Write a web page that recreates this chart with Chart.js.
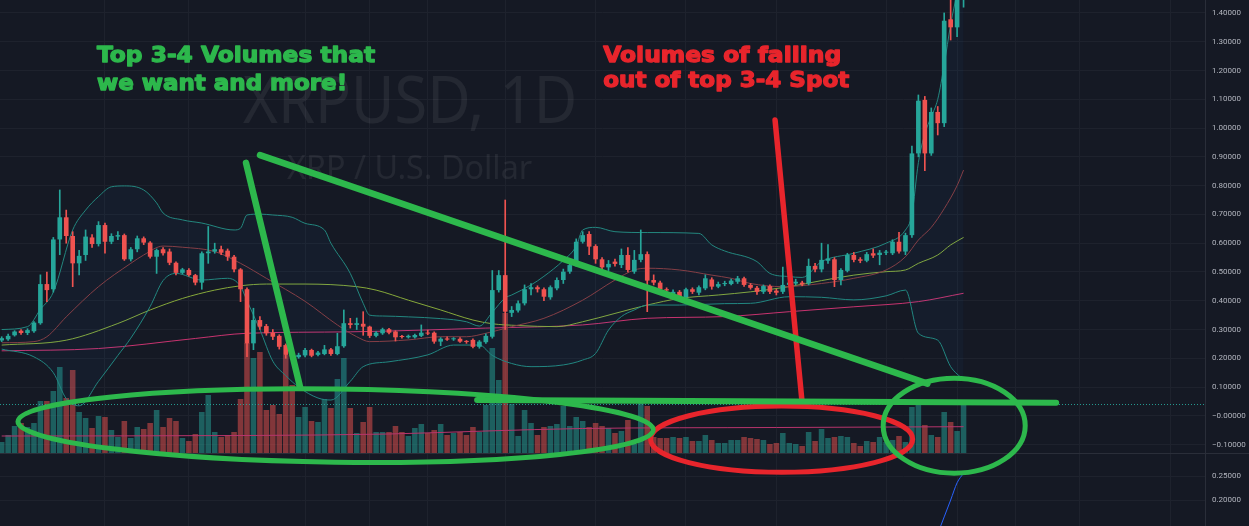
<!DOCTYPE html>
<html>
<head>
<meta charset="utf-8">
<title>XRPUSD, 1D</title>
<script src="https://cdn.jsdelivr.net/npm/chart.js@4.4.1/dist/chart.umd.min.js"></script>
<style>
  html, body { margin: 0; padding: 0; background: #151924; overflow: hidden; }
  #chart { display: block; }
</style>
</head>
<body>
<canvas id="chart" width="1249" height="526"></canvas>
<script>
// daily candles, day 0 = 2020-11-15
const opens = [
  0.262, 0.266, 0.280, 0.296, 0.288, 0.294, 0.322, 0.458, 0.440, 0.613,
  0.690, 0.625, 0.530, 0.559, 0.620, 0.597, 0.663, 0.605, 0.623, 0.628,
  0.544, 0.579, 0.617, 0.602, 0.553, 0.579, 0.571, 0.532, 0.497, 0.507,
  0.489, 0.463, 0.565, 0.571, 0.579, 0.574, 0.553, 0.509, 0.440, 0.252,
  0.333, 0.312, 0.289, 0.278, 0.246, 0.218, 0.204, 0.210, 0.229, 0.212,
  0.215, 0.231, 0.215, 0.242, 0.322, 0.316, 0.320, 0.310, 0.278, 0.287,
  0.301, 0.293, 0.276, 0.273, 0.273, 0.278, 0.289, 0.289, 0.258, 0.269,
  0.266, 0.268, 0.259, 0.264, 0.240, 0.256, 0.275, 0.437, 0.489, 0.358,
  0.366, 0.391, 0.440, 0.447, 0.440, 0.412, 0.443, 0.472, 0.501, 0.524,
  0.605, 0.632, 0.590, 0.544, 0.516, 0.536, 0.524, 0.559, 0.501, 0.542,
  0.562, 0.472, 0.463, 0.440, 0.416, 0.431, 0.412, 0.440, 0.428, 0.443,
  0.474, 0.449, 0.458, 0.458, 0.466, 0.478, 0.455, 0.445, 0.431, 0.451,
  0.435, 0.431, 0.455, 0.460, 0.463, 0.460, 0.521, 0.509, 0.539, 0.544,
  0.472, 0.504, 0.559, 0.544, 0.539, 0.565, 0.559, 0.567, 0.565, 0.605,
  0.571, 0.628, 0.912, 1.098, 0.912, 1.056, 1.017, 1.378, 1.350, 1.460
];
const highs = [
  0.275, 0.284, 0.296, 0.300, 0.303, 0.328, 0.490, 0.500, 0.620, 0.785,
  0.715, 0.640, 0.575, 0.646, 0.630, 0.675, 0.670, 0.633, 0.640, 0.632,
  0.585, 0.625, 0.622, 0.606, 0.580, 0.585, 0.580, 0.535, 0.513, 0.512,
  0.492, 0.570, 0.658, 0.600, 0.590, 0.580, 0.558, 0.512, 0.445, 0.374,
  0.345, 0.318, 0.300, 0.282, 0.250, 0.222, 0.218, 0.235, 0.232, 0.224,
  0.245, 0.235, 0.287, 0.368, 0.339, 0.340, 0.362, 0.312, 0.293, 0.305,
  0.304, 0.296, 0.280, 0.281, 0.284, 0.316, 0.298, 0.292, 0.272, 0.275,
  0.272, 0.272, 0.262, 0.268, 0.262, 0.285, 0.505, 0.505, 0.750, 0.380,
  0.400, 0.455, 0.460, 0.452, 0.445, 0.452, 0.480, 0.510, 0.530, 0.615,
  0.640, 0.640, 0.595, 0.550, 0.540, 0.545, 0.580, 0.585, 0.575, 0.646,
  0.570, 0.490, 0.468, 0.445, 0.438, 0.436, 0.444, 0.445, 0.452, 0.490,
  0.480, 0.465, 0.468, 0.475, 0.485, 0.482, 0.460, 0.450, 0.455, 0.455,
  0.440, 0.517, 0.470, 0.475, 0.468, 0.545, 0.530, 0.600, 0.595, 0.550,
  0.512, 0.565, 0.568, 0.550, 0.568, 0.580, 0.575, 0.575, 0.612, 0.638,
  0.635, 0.937, 1.115, 1.110, 1.070, 1.075, 1.400, 1.480, 1.500, 1.650
];
const lows = [
  0.258, 0.262, 0.277, 0.283, 0.282, 0.290, 0.318, 0.397, 0.430, 0.560,
  0.600, 0.449, 0.490, 0.540, 0.585, 0.590, 0.565, 0.598, 0.612, 0.540,
  0.538, 0.570, 0.595, 0.548, 0.495, 0.558, 0.525, 0.490, 0.493, 0.485,
  0.455, 0.440, 0.530, 0.565, 0.560, 0.540, 0.500, 0.397, 0.206, 0.230,
  0.300, 0.280, 0.265, 0.232, 0.200, 0.190, 0.200, 0.205, 0.205, 0.208,
  0.212, 0.210, 0.212, 0.238, 0.305, 0.300, 0.280, 0.272, 0.274, 0.283,
  0.285, 0.260, 0.270, 0.270, 0.270, 0.275, 0.282, 0.252, 0.244, 0.262,
  0.262, 0.255, 0.252, 0.236, 0.235, 0.252, 0.270, 0.430, 0.300, 0.345,
  0.360, 0.385, 0.420, 0.430, 0.400, 0.405, 0.438, 0.460, 0.495, 0.520,
  0.600, 0.560, 0.530, 0.495, 0.505, 0.520, 0.515, 0.500, 0.495, 0.535,
  0.362, 0.455, 0.432, 0.425, 0.410, 0.405, 0.405, 0.425, 0.420, 0.438,
  0.440, 0.445, 0.452, 0.455, 0.460, 0.450, 0.440, 0.422, 0.425, 0.425,
  0.420, 0.425, 0.448, 0.455, 0.452, 0.455, 0.500, 0.500, 0.530, 0.449,
  0.455, 0.500, 0.535, 0.532, 0.535, 0.550, 0.525, 0.560, 0.560, 0.565,
  0.560, 0.620, 0.900, 0.852, 0.905, 0.976, 1.005, 1.306, 1.318, 1.420
];
const closes = [
  0.270, 0.278, 0.293, 0.288, 0.298, 0.324, 0.458, 0.437, 0.613, 0.690,
  0.625, 0.530, 0.556, 0.623, 0.597, 0.663, 0.605, 0.625, 0.628, 0.544,
  0.579, 0.617, 0.602, 0.553, 0.576, 0.565, 0.532, 0.497, 0.509, 0.489,
  0.463, 0.565, 0.571, 0.579, 0.567, 0.553, 0.509, 0.440, 0.252, 0.333,
  0.310, 0.287, 0.275, 0.240, 0.212, 0.206, 0.212, 0.229, 0.209, 0.220,
  0.231, 0.215, 0.242, 0.322, 0.316, 0.322, 0.310, 0.278, 0.289, 0.301,
  0.289, 0.273, 0.274, 0.278, 0.281, 0.289, 0.286, 0.258, 0.268, 0.265,
  0.268, 0.258, 0.257, 0.240, 0.258, 0.278, 0.437, 0.489, 0.362, 0.368,
  0.391, 0.440, 0.447, 0.440, 0.414, 0.447, 0.472, 0.501, 0.524, 0.605,
  0.628, 0.588, 0.544, 0.516, 0.528, 0.528, 0.559, 0.507, 0.542, 0.562,
  0.470, 0.463, 0.440, 0.436, 0.431, 0.414, 0.440, 0.431, 0.447, 0.478,
  0.449, 0.458, 0.460, 0.470, 0.478, 0.455, 0.445, 0.431, 0.451, 0.431,
  0.428, 0.455, 0.463, 0.466, 0.457, 0.521, 0.509, 0.542, 0.547, 0.472,
  0.507, 0.559, 0.542, 0.539, 0.562, 0.557, 0.567, 0.569, 0.605, 0.571,
  0.628, 0.912, 1.095, 0.912, 1.056, 1.017, 1.373, 1.350, 1.470, 1.600
];
// volume, relative units
const volumes = [
  11, 18, 27, 30, 26, 30, 52, 52, 62, 86,
  55, 83, 41, 35, 25, 37, 36, 23, 16, 32,
  15, 26, 24, 30, 43, 26, 35, 32, 15, 12,
  19, 41, 58, 21, 16, 18, 21, 54, 110, 95,
  101, 43, 48, 39, 98, 68, 36, 46, 32, 31,
  54, 45, 74, 95, 45, 20, 31, 46, 21, 21,
  21, 27, 21, 17, 25, 29, 20, 23, 29, 18,
  20, 21, 18, 26, 21, 48, 105, 73, 140, 49,
  17, 43, 30, 18, 26, 27, 29, 47, 27, 36,
  32, 26, 30, 27, 25, 20, 22, 33, 9, 50,
  47, 16, 15, 15, 16, 15, 16, 12, 12, 18,
  13, 10, 10, 13, 13, 16, 15, 14, 13, 9,
  10, 20, 10, 9, 7, 21, 12, 24, 15, 16,
  17, 16, 10, 7, 12, 11, 16, 11, 13, 17,
  11, 46, 48, 28, 18, 16, 41, 31, 22, 49
];

// indicator lines as [day, value]
const bbUpper = [
  [0, 0.300], [4, 0.310], [6, 0.370], [8, 0.430], [11, 0.646], [13, 0.715], [15, 0.762],
  [17, 0.796], [19, 0.799], [22, 0.785], [24, 0.740], [25, 0.705], [28, 0.681], [31, 0.670],
  [36, 0.646], [37, 0.652], [38, 0.698], [40, 0.701], [42, 0.698], [45, 0.690], [47, 0.669],
  [50, 0.646], [51, 0.600], [54, 0.495], [56, 0.391], [57, 0.350], [59, 0.347], [63, 0.344],
  [68, 0.338], [72, 0.327], [74, 0.312], [76, 0.360], [78, 0.410], [79, 0.420], [82, 0.455],
  [84, 0.485], [87, 0.540], [89, 0.590], [90, 0.646], [92, 0.655], [95, 0.640], [100, 0.637],
  [108, 0.634], [110, 0.594], [112, 0.573], [117, 0.536], [119, 0.495], [122, 0.484],
  [124, 0.481], [127, 0.536], [132, 0.565], [137, 0.600], [140, 0.646], [141, 0.700],
  [142, 0.880], [143, 0.980], [144, 1.040], [145, 1.100], [146, 1.220], [147, 1.360],
  [148, 1.470], [149, 1.580]
];
const bbLower = [
  [0, 0.232], [5, 0.205], [8, 0.150], [10, 0.060], [12, 0.035], [15, 0.120], [18, 0.210],
  [20, 0.270], [23, 0.380], [25, 0.470], [27, 0.495], [31, 0.472], [35, 0.478], [37, 0.450],
  [38, 0.400], [40, 0.300], [42, 0.190], [44, 0.140], [46, 0.100], [49, 0.062], [51, 0.055],
  [54, 0.120], [56, 0.171], [60, 0.188], [66, 0.212], [70, 0.246], [74, 0.246], [76, 0.210],
  [79, 0.182], [82, 0.171], [87, 0.177], [90, 0.194], [92, 0.217], [94, 0.298], [96, 0.345],
  [98, 0.368], [100, 0.385], [105, 0.385], [112, 0.390], [116, 0.391], [122, 0.414],
  [127, 0.412], [132, 0.403], [137, 0.417], [140, 0.437], [142, 0.287], [145, 0.263],
  [147, 0.171], [149, 0.125]
];
const bbBasis = [
  [0, 0.254], [5, 0.258], [7, 0.275], [10, 0.344], [15, 0.449], [20, 0.530], [22, 0.559],
  [25, 0.590], [28, 0.586], [33, 0.571], [37, 0.530], [41, 0.478], [47, 0.398], [52, 0.316],
  [55, 0.275], [57, 0.258], [63, 0.264], [68, 0.275], [72, 0.275], [75, 0.287], [79, 0.310],
  [84, 0.339], [90, 0.402], [95, 0.472], [98, 0.507], [100, 0.513], [105, 0.507], [110, 0.489],
  [113, 0.478], [116, 0.460], [121, 0.449], [127, 0.460], [132, 0.478], [137, 0.507],
  [140, 0.553], [142, 0.611], [144, 0.655], [146, 0.720], [148, 0.800], [149, 0.854]
];
const sma50 = [
  [0, 0.246], [10, 0.263], [18, 0.321], [23, 0.368], [28, 0.408], [33, 0.437], [37, 0.452],
  [41, 0.458], [47, 0.458], [55, 0.449], [58, 0.437], [63, 0.402], [68, 0.368], [73, 0.333],
  [76, 0.320], [80, 0.314], [86, 0.310], [90, 0.327], [95, 0.356], [100, 0.385], [105, 0.408],
  [111, 0.420], [116, 0.431], [122, 0.449], [127, 0.470], [132, 0.489], [137, 0.501],
  [140, 0.507], [142, 0.530], [145, 0.559], [147, 0.594], [149, 0.620]
];
const sma200 = [
  [0, 0.226], [15, 0.234], [30, 0.269], [38, 0.287], [54, 0.292], [75, 0.305], [90, 0.316],
  [100, 0.339], [112, 0.345], [122, 0.362], [132, 0.379], [142, 0.397], [149, 0.426]
];
const volumeMa = [[0, 17], [38, 17.5], [60, 19], [75, 22], [90, 24.5], [120, 25.5], [149, 26.3]];
const paneLine = [[145, 0.130], [146, 0.165], [147, 0.200], [148, 0.236], [149, 0.256]];

const priceTicks = [-0.1, 0, 0.1, 0.2, 0.3, 0.4, 0.5, 0.6, 0.7, 0.8, 0.9, 1.0, 1.1, 1.2, 1.3, 1.4];
const paneTicks = [0.2, 0.25];
const gridDays = [16, 29, 47, 57, 66, 78, 92, 106, 120, 137, 148, 157, 167, 181];

const BG = "#151924";
const GRID = "#1e222d";
const AXIS = "#2a2e39";
const TEXT = "#b2b5be";
const UP = "#26a69a";
const DOWN = "#ef5350";
const GREEN = "#2db84c";
const RED = "#e8252c";

// hand-drawn notes, placed in chart units (day, price)
const strokes = [
  { color: RED, width: 5.5, from: [119.8, 1.028], to: [124.0, 0.044] },
  { color: GREEN, width: 6.5, from: [37.85, 0.879], to: [46.22, 0.100] },
  { color: GREEN, width: 6.5, from: [40.02, 0.906], to: [143.4, 0.112] },
  { color: GREEN, width: 6, from: [73.65, 0.055], to: [163.35, 0.046] }
];
const rings = [
  { color: RED, width: 5, center: [120.82, -0.081], rx: 20.3, ry: 0.115, tilt: 0 },
  { color: GREEN, width: 5, center: [51.72, -0.034], rx: 49.2, ry: 0.127, tilt: 0.013 },
  { color: GREEN, width: 5, center: [147.55, -0.034], rx: 11.0, ry: 0.165, tilt: 0 }
];
const notes = [
  { text: "Top 3-4 Volumes that", color: GREEN, at: [14.77, 1.2308], span: 43.07 },
  { text: "we want and more!", color: GREEN, at: [14.77, 1.1324], span: 38.74 },
  { text: "Volumes of falling", color: RED, at: [93.17, 1.2308], span: 36.88 },
  { text: "out of top 3-4 Spot", color: RED, at: [93.17, 1.1418], span: 38.12 }
];
const watermark = [
  { text: "XRPUSD, 1D", font: "66px 'Noto Sans'", at: [37.39, 1.0177], span: 51.75 },
  { text: "XRP / U.S. Dollar", font: "33px 'Noto Sans'", at: [44.21, 0.823], span: 37.96 }
];

const days = opens.map((_, i) => i);
const candleColors = days.map((i) => (closes[i] >= opens[i] ? UP : DOWN));
const volumeColors = days.map((i) =>
  closes[i] >= opens[i] ? "rgba(38, 166, 154, 0.5)" : "rgba(239, 83, 80, 0.5)"
);
const points = (pairs) => pairs.map(([x, y]) => ({ x, y }));

function toPixel(chart, day, price) {
  return {
    x: chart.scales.x.getPixelForValue(day),
    y: chart.scales.yMain.getPixelForValue(price)
  };
}

function daysToPixels(chart, from, span) {
  return chart.scales.x.getPixelForValue(from + span) - chart.scales.x.getPixelForValue(from);
}

// squeeze or stretch a line of text to the width it has in the picture
function drawFitted(ctx, text, x, y, width, outline) {
  const natural = ctx.measureText(text).width;
  ctx.save();
  ctx.translate(x, y);
  ctx.scale(width / natural, 1);
  ctx.fillText(text, 0, 0);
  if (outline) {
    ctx.lineWidth = outline;
    ctx.lineJoin = "round";
    ctx.strokeText(text, 0, 0);
  }
  ctx.restore();
}

function formatPrice(value) {
  if (Math.abs(value) < 1e-9) return "\u22120.00000";
  if (value < 0) return "\u2212" + Math.abs(value).toFixed(5);
  return value.toFixed(5);
}

// keep the panes flush with the canvas edges
function noPadding(scale) {
  scale.paddingTop = 0;
  scale.paddingBottom = 0;
  scale.paddingLeft = 0;
  scale.paddingRight = 0;
}

const overlay = {
  id: "overlay",
  beforeDraw(chart) {
    const { ctx, width, height } = chart;
    ctx.save();
    ctx.fillStyle = BG;
    ctx.fillRect(0, 0, width, height);
    ctx.restore();
  },
  beforeDatasetsDraw(chart) {
    const ctx = chart.ctx;
    ctx.save();
    ctx.fillStyle = "rgba(255, 255, 255, 0.065)";
    ctx.textBaseline = "alphabetic";
    watermark.forEach((mark) => {
      const p = toPixel(chart, mark.at[0], mark.at[1]);
      ctx.font = mark.font;
      drawFitted(ctx, mark.text, p.x, p.y, daysToPixels(chart, mark.at[0], mark.span));
    });
    ctx.restore();
  },
  afterDatasetsDraw(chart) {
    const ctx = chart.ctx;
    const area = chart.chartArea;
    const low = chart.scales.yLow;

    ctx.save();
    // pane separator
    ctx.strokeStyle = AXIS;
    ctx.lineWidth = 1;
    ctx.beginPath();
    ctx.moveTo(0, Math.round(low.top) + 0.5);
    ctx.lineTo(chart.width, Math.round(low.top) + 0.5);
    ctx.stroke();

    // last volume level
    const lastVol = chart.scales.yVol.getPixelForValue(volumes[volumes.length - 1]);
    ctx.strokeStyle = "rgba(38, 166, 154, 0.9)";
    ctx.setLineDash([1, 2]);
    ctx.beginPath();
    ctx.moveTo(area.left, Math.round(lastVol) + 0.5);
    ctx.lineTo(area.right, Math.round(lastVol) + 0.5);
    ctx.stroke();
    ctx.setLineDash([]);

    ctx.lineCap = "round";
    rings.forEach((ring) => {
      const c = toPixel(chart, ring.center[0], ring.center[1]);
      const rx = daysToPixels(chart, ring.center[0], ring.rx);
      const ry = chart.scales.yMain.getPixelForValue(ring.center[1] - ring.ry) - c.y;
      ctx.strokeStyle = ring.color;
      ctx.lineWidth = ring.width;
      ctx.beginPath();
      ctx.ellipse(c.x, c.y, rx, ry, ring.tilt, 0, Math.PI * 2);
      ctx.stroke();
    });
    strokes.forEach((line) => {
      const a = toPixel(chart, line.from[0], line.from[1]);
      const b = toPixel(chart, line.to[0], line.to[1]);
      ctx.strokeStyle = line.color;
      ctx.lineWidth = line.width;
      ctx.beginPath();
      ctx.moveTo(a.x, a.y);
      ctx.lineTo(b.x, b.y);
      ctx.stroke();
    });

    ctx.font = "bold 22px 'DejaVu Sans'";
    ctx.textBaseline = "alphabetic";
    notes.forEach((note) => {
      const p = toPixel(chart, note.at[0], note.at[1]);
      ctx.fillStyle = note.color;
      ctx.strokeStyle = note.color;
      drawFitted(ctx, note.text, p.x, p.y, daysToPixels(chart, note.at[0], note.span), 1.3);
    });
    ctx.restore();
  }
};

const lineStyle = {
  type: "line",
  yAxisID: "yMain",
  borderWidth: 1,
  pointRadius: 0,
  cubicInterpolationMode: "monotone",
  fill: false,
  order: 5
};

const ctx = document.getElementById("chart").getContext("2d");
new Chart(ctx, {
  type: "bar",
  data: {
    datasets: [
      {
        label: "Volume",
        yAxisID: "yVol",
        data: days.map((i) => ({ x: i, y: volumes[i] })),
        backgroundColor: volumeColors,
        categoryPercentage: 1,
        barPercentage: 0.86,
        grouped: false,
        order: 10
      },
      {
        ...lineStyle,
        label: "BB upper",
        data: points(bbUpper),
        borderColor: "#23877f",
        backgroundColor: "rgba(33, 150, 243, 0.045)",
        fill: "+1"
      },
      { ...lineStyle, label: "BB lower", data: points(bbLower), borderColor: "#23877f" },
      { ...lineStyle, label: "BB basis", data: points(bbBasis), borderColor: "#8a3b3f" },
      { ...lineStyle, label: "SMA 50", data: points(sma50), borderColor: "#86a83a" },
      { ...lineStyle, label: "SMA 200", data: points(sma200), borderColor: "#c8336f" },
      {
        ...lineStyle,
        label: "Volume MA",
        yAxisID: "yVol",
        data: points(volumeMa),
        borderColor: "#b7346c"
      },
      {
        ...lineStyle,
        label: "Pane",
        yAxisID: "yLow",
        data: points(paneLine),
        borderColor: "#2962ff"
      },
      {
        label: "Wicks",
        yAxisID: "yMain",
        data: days.map((i) => ({ x: i, y: [lows[i], highs[i]] })),
        backgroundColor: candleColors,
        barThickness: 1,
        grouped: false,
        order: 2
      },
      {
        label: "Bodies",
        yAxisID: "yMain",
        data: days.map((i) => ({ x: i, y: [opens[i], closes[i]] })),
        backgroundColor: candleColors,
        categoryPercentage: 0.8,
        barPercentage: 0.9,
        minBarLength: 1,
        grouped: false,
        order: 1
      }
    ]
  },
  options: {
    responsive: false,
    animation: false,
    events: [],
    layout: { padding: 0 },
    plugins: {
      legend: { display: false },
      tooltip: { enabled: false }
    },
    scales: {
      x: {
        type: "linear",
        position: "bottom",
        min: -0.26,
        max: 186.4,
        offset: false,
        ticks: { display: false },
        grid: { color: GRID, drawTicks: false, offset: false },
        border: { display: false },
        afterBuildTicks: (scale) => {
          scale.ticks = gridDays.map((v) => ({ value: v }));
        },
        afterFit: (scale) => {
          scale.height = 0;
          noPadding(scale);
        }
      },
      yMain: {
        type: "linear",
        position: "right",
        stack: "price",
        stackWeight: 453,
        min: -0.129,
        max: 1.445,
        grid: { color: GRID, drawTicks: false },
        border: { color: AXIS },
        ticks: {
          color: TEXT,
          padding: 7,
          font: { family: "Roboto", size: 8 },
          callback: (v) => formatPrice(v)
        },
        afterBuildTicks: (scale) => {
          scale.ticks = priceTicks.map((v) => ({ value: v }));
        },
        afterFit: (scale) => {
          scale.width = 44;
          noPadding(scale);
        }
      },
      yLow: {
        type: "linear",
        position: "right",
        stack: "price",
        stackWeight: 73,
        min: 0.146,
        max: 0.298,
        grid: { color: GRID, drawTicks: false },
        border: { color: AXIS },
        ticks: {
          color: TEXT,
          padding: 7,
          font: { family: "Roboto", size: 8 },
          callback: (v) => formatPrice(v)
        },
        afterBuildTicks: (scale) => {
          scale.ticks = paneTicks.map((v) => ({ value: v }));
        },
        afterFit: (scale) => {
          scale.width = 44;
          noPadding(scale);
        }
      },
      yVol: {
        type: "linear",
        display: false,
        min: -73,
        max: 453
      }
    }
  },
  plugins: [overlay]
});
</script>
</body>
</html>
